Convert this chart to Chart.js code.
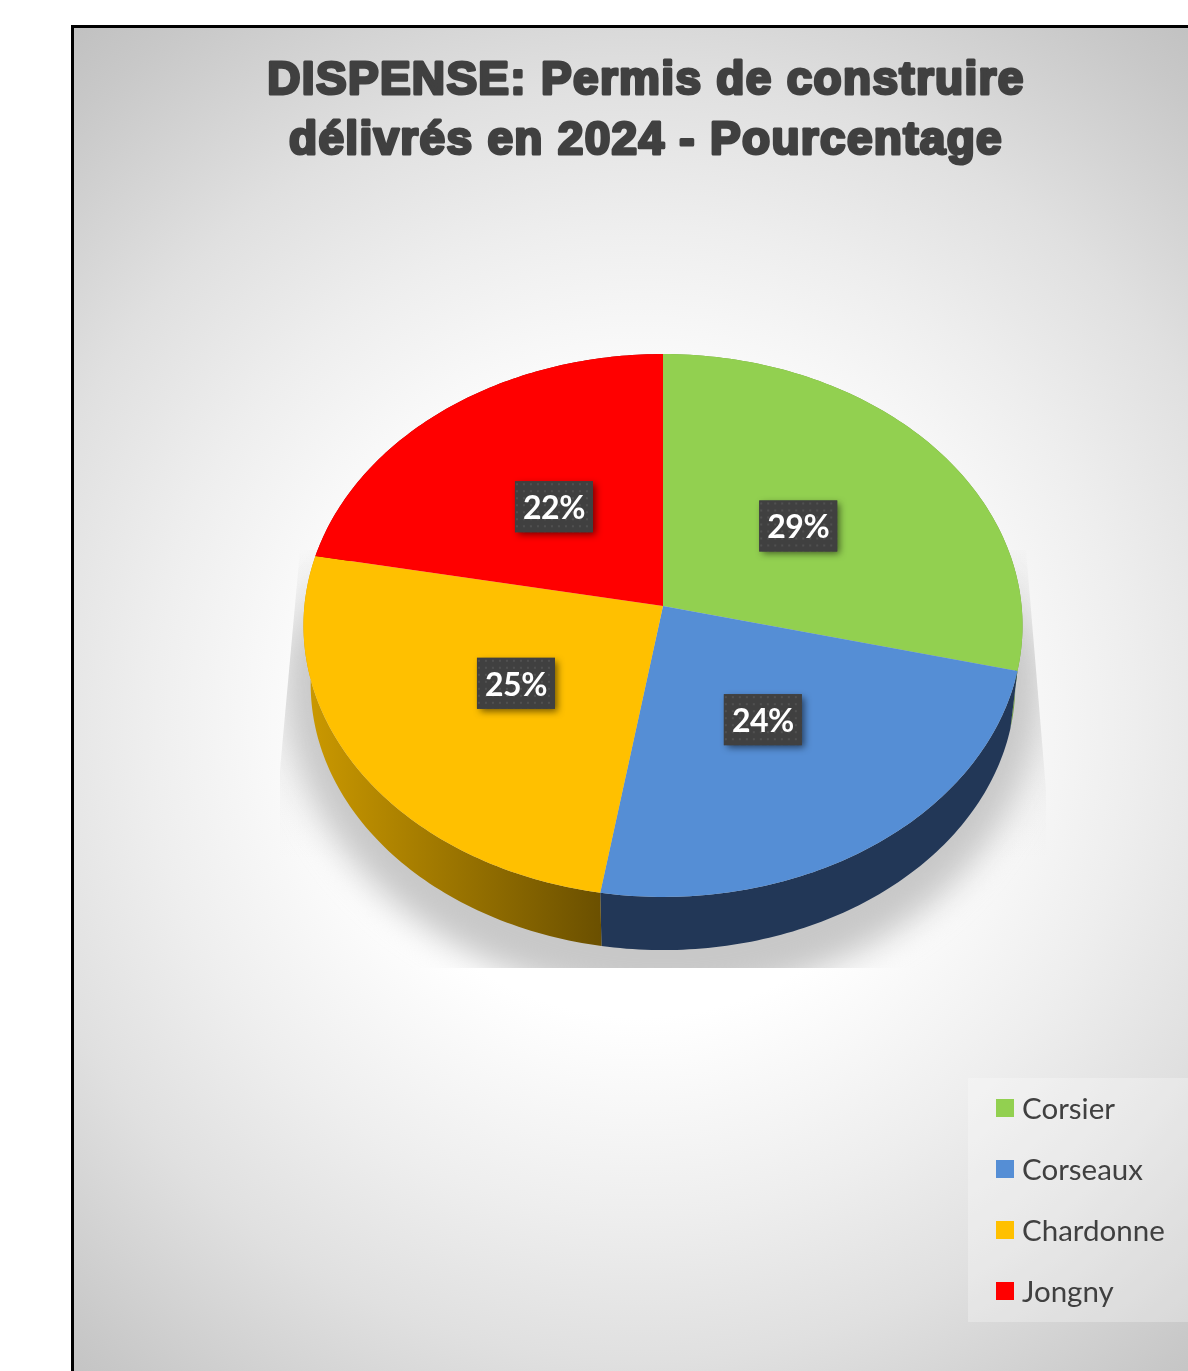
<!DOCTYPE html>
<html>
<head>
<meta charset="utf-8">
<title>Permis de construire</title>
<script src="https://cdn.jsdelivr.net/npm/chart.js@4/dist/chart.umd.min.js"></script>
<style>
  html, body { margin: 0; background: #fff; overflow: hidden; height: 100%; }
  #frame { position: absolute; left: 71px; top: 25px; width: 1117px; height: 1346px; border: solid #000; border-width: 3px 0 0 3px; }
  canvas { display: block; }
</style>
</head>
<body>
<div id="frame"><canvas id="chart" width="1114" height="1343"></canvas></div>
<script>
const titleLines = ["DISPENSE: Permis de construire", "délivrés en 2024 - Pourcentage"];
const categories = ["Corsier", "Corseaux", "Chardonne", "Jongny"];
const values = [28.8, 23.8, 25.4, 22];
const sliceColors = ["#92D050", "#558ED5", "#FFC000", "#FF0000"];
const wallFrom = ["#6E9C3C", "#223757", "#CC9A00", "#A00000"];
const wallTo = ["#6E9C3C", "#223757", "#6B5000", "#A00000"];

// page position of the canvas
const OX = 74, OY = 28;
// pie centre and radius on the canvas
const CX = 663 - OX, CY = 606 - OY, R = 358.6;
// perspective of the tilted pie
const TILT = 0.0718, SQUASH = 0.753;
// bottom rim of the side wall
const WALL_SCALE = 0.98, WALL_DROP = 59;
const TITLE_SPACING = "1.3px";

function project(el, frac, angle) {
  const d = 1 - TILT * frac * Math.sin(angle);
  return {
    x: el.x + el.outerRadius * frac * Math.cos(angle) / d,
    y: el.y + el.outerRadius * SQUASH * frac * Math.sin(angle) / d
  };
}

function rim(el) {
  const pts = [];
  const steps = 90;
  for (let i = 0; i <= steps; i++) {
    pts.push(project(el, 1, el.startAngle + (el.endAngle - el.startAngle) * i / steps));
  }
  return pts;
}

// the library computes the angles, this only bends them into the tilted view
Chart.ArcElement.prototype.draw = function (ctx) {
  ctx.save();
  ctx.fillStyle = this.options.backgroundColor;
  ctx.beginPath();
  ctx.moveTo(this.x, this.y);
  rim(this).forEach(p => ctx.lineTo(p.x, p.y));
  ctx.closePath();
  ctx.fill();
  ctx.restore();
};

const scenePlugin = {
  id: "scene",
  afterLayout(chart) {
    chart.chartArea = { left: CX - R, right: CX + R, top: CY - R, bottom: CY + R, width: 2 * R, height: 2 * R };
    chart.titleBlock.left = 0;
    chart.titleBlock.right = 1144;
  },
  beforeDraw(chart) {
    const ctx = chart.ctx;
    const bg = ctx.createRadialGradient(640 - OX, 720 - OY, 0, 640 - OX, 720 - OY, 900);
    bg.addColorStop(0, "#ffffff");
    bg.addColorStop(0.33, "#ffffff");
    bg.addColorStop(0.55, "#eeeeee");
    bg.addColorStop(0.71, "#e0e0e0");
    bg.addColorStop(0.92, "#c8c8c8");
    bg.addColorStop(1, "#c0c0c0");
    ctx.fillStyle = bg;
    ctx.fillRect(0, 0, chart.width, chart.height);
    // the title is filled by the library right after this hook
    ctx.letterSpacing = TITLE_SPACING;
  },
  beforeDatasetsDraw(chart) {
    const ctx = chart.ctx;
    ctx.letterSpacing = "0px";
    const arcs = chart.getDatasetMeta(0).data;

    // floor shadow, cut off like the reference
    ctx.save();
    ctx.beginPath();
    ctx.moveTo(300 - OX, 550 - OY);
    ctx.lineTo(1026 - OX, 550 - OY);
    ctx.lineTo(1046 - OX, 790 - OY);
    ctx.lineTo(1046 - OX, 968 - OY);
    ctx.lineTo(280 - OX, 968 - OY);
    ctx.lineTo(280 - OX, 770 - OY);
    ctx.closePath();
    ctx.clip();
    const wash = ctx.createLinearGradient(0, 550 - OY, 0, 860 - OY);
    wash.addColorStop(0, "rgba(190,190,190,0)");
    wash.addColorStop(0.6, "rgba(190,190,190,0.10)");
    wash.addColorStop(1, "rgba(190,190,190,0)");
    ctx.fillStyle = wash;
    ctx.fillRect(0, 0, chart.width, chart.height);
    const fade = ctx.createLinearGradient(0, 545 - OY, 0, 650 - OY);
    fade.addColorStop(0, "rgba(200,200,200,0)");
    fade.addColorStop(1, "rgba(200,200,200,1)");
    ctx.filter = "blur(16px)";
    ctx.fillStyle = fade;
    ctx.beginPath();
    ctx.ellipse(CX, 680 - OY, 378, 318, 0, 0, Math.PI * 2);
    ctx.fill();
    ctx.restore();

    // side wall
    arcs.forEach((el, i) => {
      const top = rim(el);
      const xs = top.map(p => p.x);
      const grad = ctx.createLinearGradient(Math.min(...xs), 0, Math.max(...xs), 0);
      grad.addColorStop(0, wallFrom[i]);
      grad.addColorStop(1, wallTo[i]);
      ctx.fillStyle = grad;
      ctx.beginPath();
      top.forEach((p, k) => k ? ctx.lineTo(p.x, p.y) : ctx.moveTo(p.x, p.y));
      top.slice().reverse().forEach(p => {
        ctx.lineTo(el.x + (p.x - el.x) * WALL_SCALE, el.y + (p.y - el.y) * WALL_SCALE + WALL_DROP);
      });
      ctx.closePath();
      ctx.fill();
    });
  },
  afterDatasetsDraw(chart) {
    const ctx = chart.ctx;
    const arcs = chart.getDatasetMeta(0).data;
    const total = values.reduce((a, b) => a + b, 0);

    const tile = document.createElement("canvas");
    tile.width = tile.height = 7;
    const t = tile.getContext("2d");
    t.fillStyle = "#404040";
    t.fillRect(0, 0, 7, 7);
    t.fillStyle = "#505050";
    t.fillRect(1, 2, 2, 2);
    const dots = ctx.createPattern(tile, "repeat");

    arcs.forEach((el, i) => {
      const mid = (el.startAngle + el.endAngle) / 2;
      const p = project(el, 0.49, mid);
      const w = 78, h = 51;
      ctx.save();
      ctx.shadowColor = "rgba(0,0,0,0.55)";
      ctx.shadowBlur = 7;
      ctx.shadowOffsetX = 3;
      ctx.shadowOffsetY = 3;
      ctx.fillStyle = "#404040";
      ctx.fillRect(p.x - w / 2, p.y - h / 2, w, h);
      ctx.restore();
      ctx.save();
      ctx.translate(p.x - w / 2, p.y - h / 2);
      ctx.fillStyle = dots;
      ctx.fillRect(0, 0, w, h);
      ctx.restore();
      ctx.save();
      ctx.fillStyle = "#ffffff";
      ctx.font = "bold 32px Lato";
      ctx.letterSpacing = "-0.5px";
      ctx.textAlign = "center";
      ctx.textBaseline = "middle";
      ctx.fillText(Math.round(values[i] / total * 100) + "%", p.x, p.y + 2);
      ctx.restore();
    });
  },
  afterDraw(chart) {
    const ctx = chart.ctx;

    // heavier title: same text, stroked over the library's fill
    const opts = chart.options.plugins.title;
    const font = Chart.helpers.toFont(opts.font);
    const block = chart.titleBlock;
    ctx.save();
    ctx.font = font.string;
    ctx.letterSpacing = TITLE_SPACING;
    ctx.strokeStyle = opts.color;
    ctx.lineWidth = 3;
    ctx.lineJoin = "round";
    ctx.textAlign = "center";
    ctx.textBaseline = "middle";
    titleLines.forEach((line, i) => {
      ctx.strokeText(line, (block.left + block.right) / 2, block.top + opts.padding.top + font.lineHeight * (i + 0.5));
    });
    ctx.restore();

    // legend panel
    ctx.save();
    ctx.fillStyle = "rgba(255,255,255,0.28)";
    ctx.fillRect(968 - OX, 1078 - OY, 1188 - 968, 1322 - 1078);
    ctx.font = "29.5px Lato";
    ctx.textBaseline = "middle";
    categories.forEach((name, i) => {
      const y = 1109 + i * 61 - OY;
      ctx.fillStyle = sliceColors[i];
      ctx.fillRect(996 - OX, y - 10, 18, 18);
      ctx.fillStyle = "#404040";
      ctx.fillText(name, 1022 - OX, y);
    });
    ctx.restore();
  }
};

new Chart(document.getElementById("chart").getContext("2d"), {
  type: "pie",
  data: {
    labels: categories,
    datasets: [{ data: values, backgroundColor: sliceColors, borderWidth: 0, clip: false }]
  },
  options: {
    responsive: false,
    animation: false,
    plugins: {
      legend: { display: false },
      tooltip: { enabled: false },
      title: {
        display: true,
        text: titleLines,
        color: "#404040",
        font: { family: "Liberation Sans", size: 46, weight: "bold", lineHeight: 60 / 46 },
        padding: { top: 23, bottom: 0 }
      }
    }
  },
  plugins: [scenePlugin]
});
</script>
</body>
</html>
